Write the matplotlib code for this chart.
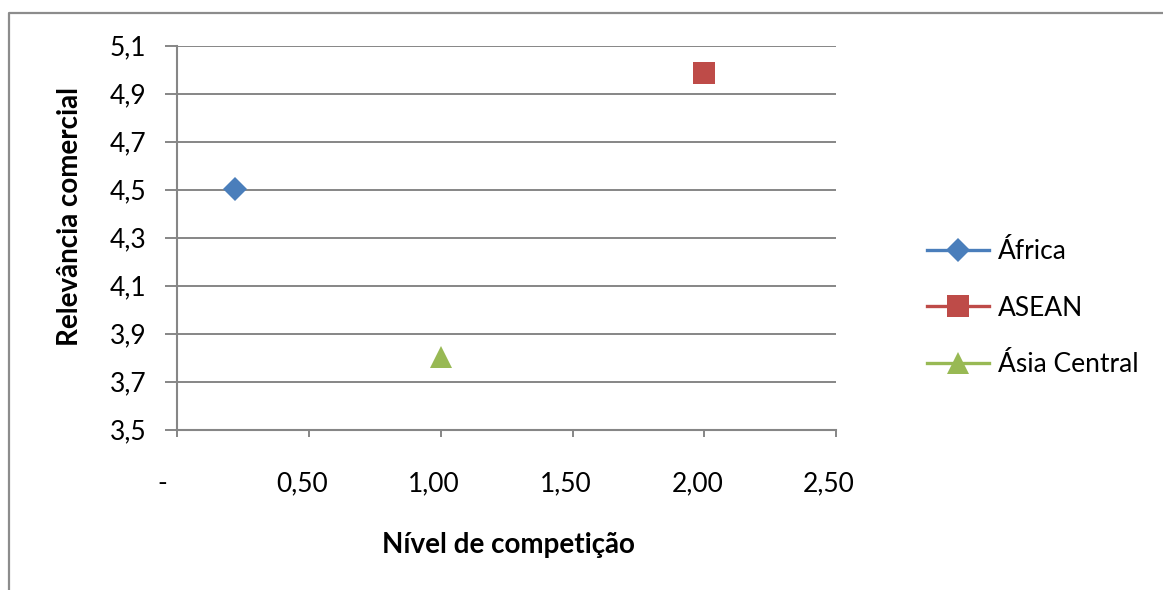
#!/usr/bin/env python3
"""Scatter: relevancia comercial vs nivel de competicao por regiao."""

import matplotlib
matplotlib.use('Agg')
import matplotlib.pyplot as plt
from matplotlib.lines import Line2D
from matplotlib.transforms import ScaledTranslation

# data
regions = ['África', 'ASEAN', 'Ásia Central']
competicao = [0.22, 2.00, 1.00]
relevancia = [4.505, 4.985, 3.805]

x_ticks = [0.0, 0.5, 1.0, 1.5, 2.0, 2.5]
x_tick_labels = ['-', '0,50', '1,00', '1,50', '2,00', '2,50']
y_ticks = [3.5, 3.7, 3.9, 4.1, 4.3, 4.5, 4.7, 4.9, 5.1]
y_tick_labels = ['3,5', '3,7', '3,9', '4,1', '4,3', '4,5', '4,7', '4,9', '5,1']

colors = ['#4A7EBB', '#BE4B48', '#98B954']
markers = ['D', 's', '^']
marker_sizes = [12, 16.5, 16.5]

GRAY = '#868686'
W, H = 1163, 590

plt.rcParams['font.family'] = ['Lato', 'DejaVu Sans']

fig = plt.figure(figsize=(W / 100, H / 100), dpi=100)
ax = fig.add_axes([177.3 / W, 1 - 429.7 / H, (836 - 177.3) / W, (429.7 - 45.7) / H])

for name, x, y, c, m, ms in zip(regions, competicao, relevancia, colors, markers, marker_sizes):
    ax.plot([x], [y], linestyle='-', linewidth=2.4, color=c, marker=m,
            markersize=ms, markeredgewidth=0, label=name)

ax.set_xlim(0, 2.5)
ax.set_ylim(3.5, 5.1)
ax.set_xticks(x_ticks)
ax.set_xticklabels(x_tick_labels)
ax.set_yticks(y_ticks)
ax.set_yticklabels(y_tick_labels)

ax.grid(axis='y', color=GRAY, linewidth=1.4)
ax.set_axisbelow(True)
for side in ['top', 'right']:
    ax.spines[side].set_visible(False)
for side in ['left', 'bottom']:
    ax.spines[side].set_color(GRAY)
    ax.spines[side].set_linewidth(1.5)

ax.tick_params(axis='y', length=8.4, width=1.4, color=GRAY, pad=14, labelsize=19)
ax.tick_params(axis='x', length=5, width=1.4, color=GRAY, pad=25, labelsize=19)

# accounting-style labels sit a bit left of their ticks
for i, lab in enumerate(ax.get_xticklabels()):
    dx = -15 if i == 0 else -7
    lab.set_transform(lab.get_transform() + ScaledTranslation(dx / 100, 0, fig.dpi_scale_trans))

ax.set_xlabel('Nível de competição', fontsize=20, fontweight='bold', va='center')
ax.xaxis.set_label_coords(0.503, -0.30)
ax.set_ylabel('Relevância comercial', fontsize=20, fontweight='bold', va='center')
ax.yaxis.set_label_coords(-0.163, 0.554)

leg = ax.legend(loc='center left', bbox_to_anchor=(927 / W, 1 - 308 / H),
                bbox_transform=fig.transFigure, frameon=False, fontsize=19,
                handlelength=2.35, handletextpad=0.35, labelspacing=1.2,
                borderpad=0, borderaxespad=0)

# chart area border (left and top edges visible)
fig.add_artist(Line2D([9 / W, 9 / W, 1.0], [0.0, 1 - 13 / H, 1 - 13 / H],
                      transform=fig.transFigure, color='#8C8C8C', linewidth=1.6))

fig.savefig('out.png', dpi=100)
